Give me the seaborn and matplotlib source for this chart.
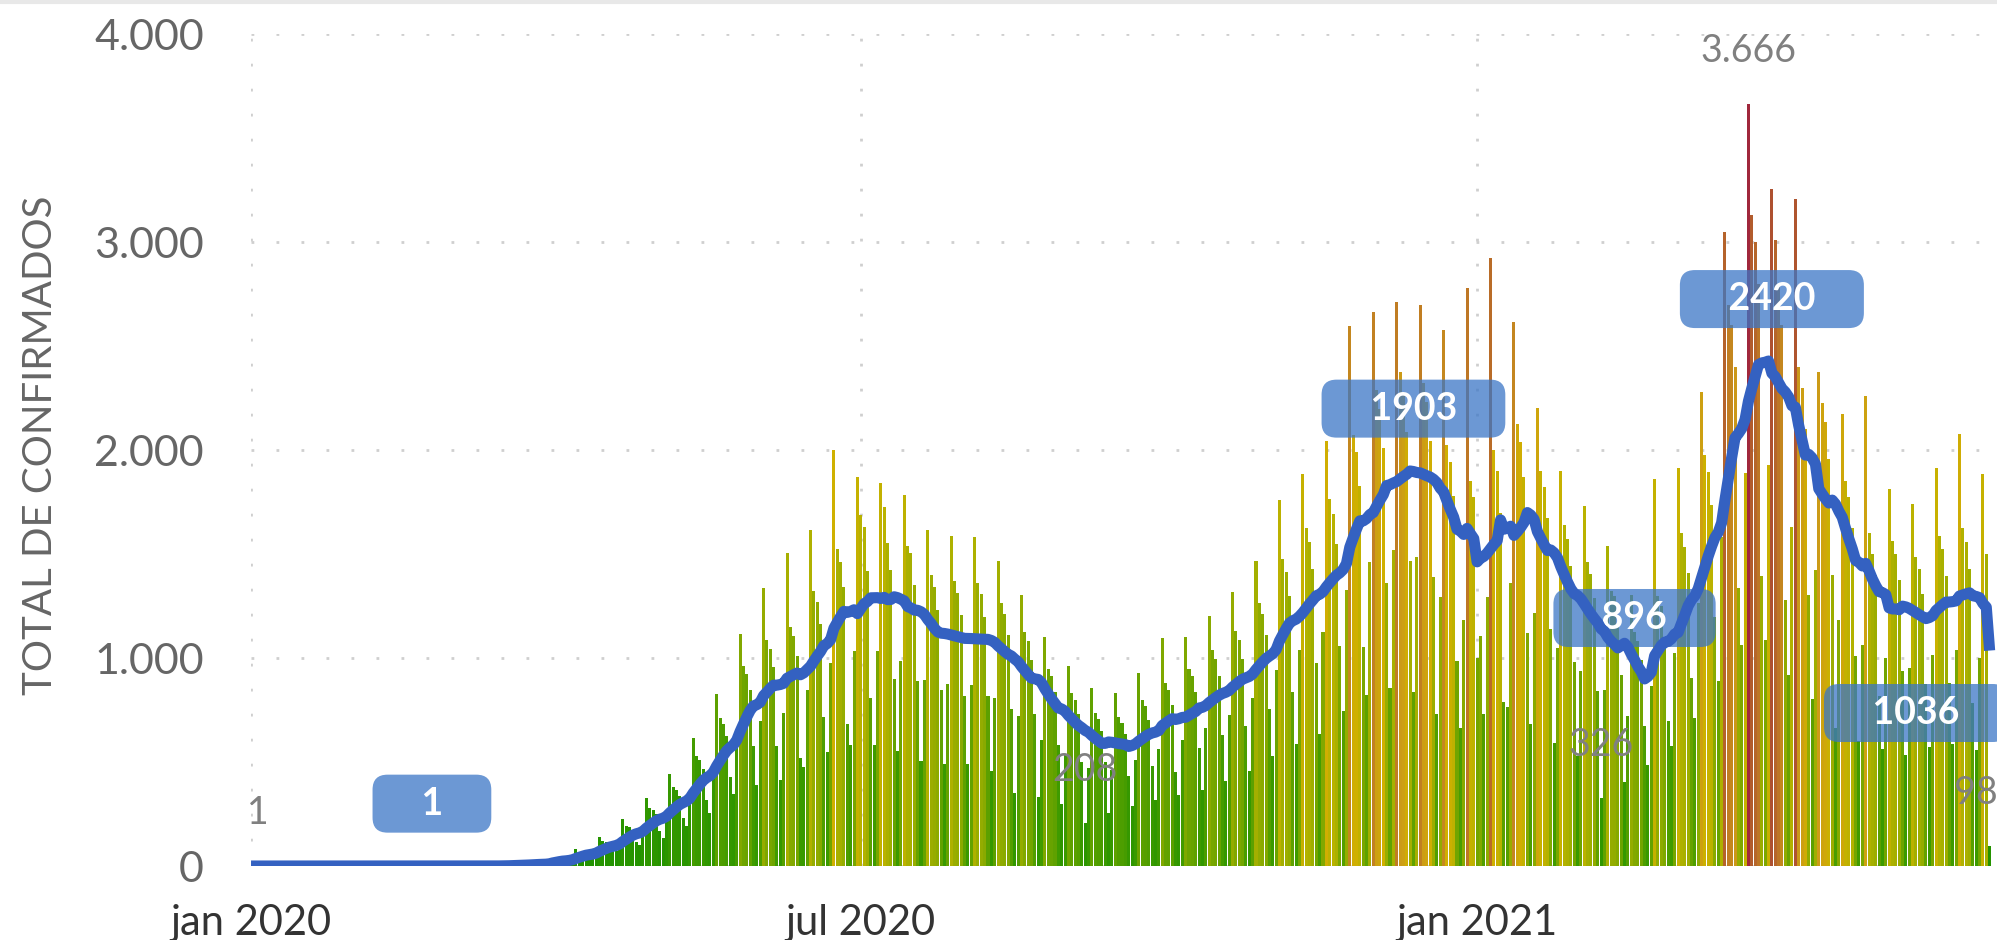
import numpy as np
import pandas as pd
import matplotlib
matplotlib.use("Agg")
import matplotlib.pyplot as plt
import matplotlib.dates as mdates
from matplotlib.colors import LinearSegmentedColormap
from matplotlib.lines import Line2D
import seaborn as sns

# ---------------- data: daily confirmed cases ----------------
jan_2020 = [0, 0, 1]
mar_2020 = [0, 0, 0, 0, 0, 0, 0, 0, 0, 0, 0, 0, 1, 0, 2, 1, 3, 2, 4, 3, 6, 5, 8, 7, 9, 8, 10, 9, 11, 20, 36]
apr_2020 = [31, 30, 28, 19,
            25, 44, 80, 69, 66, 61, 40,
            43, 76, 138, 119, 114, 105, 70,
            70, 124, 225, 194, 186, 171, 115,
            101, 180, 327, 281, 270]
may_2020 = [248, 168,
            137, 244, 442, 381, 366, 336, 229,
            191, 340, 616, 531, 510, 468, 319,
            257, 456, 827, 713, 684, 627, 426,
            347, 616, 1117, 963, 924, 847, 576,
            392]
jun_2020 = [696, 1337, 1088, 1044, 957, 576,
            414, 736, 1505, 1150, 1104, 1012, 519,
            477, 848, 1616, 1325, 1272, 1166, 716,
            549, 976, 2001, 1525, 1464, 1342, 683,
            581, 1032, 1870]
jul_2020 = [1690, 1630, 1419, 808,
            583, 1036, 1842, 1727, 1554, 1425, 898,
            554, 984, 1784, 1538, 1505, 1353, 892,
            504, 896, 1616, 1400, 1344, 1232, 848,
            493, 876, 1588, 1369, 1314, 1205]
aug_2020 = [820,
            491, 872, 1581, 1363, 1308, 1199, 816,
            455, 808, 1465, 1263, 1212, 1111, 756,
            351, 720, 1305, 1125, 1080, 990, 729,
            332, 608, 1102, 950, 912, 836, 580,
            299, 532]
sep_2020 = [964, 831, 798, 732, 499,
            208, 472, 856, 738, 708, 649, 499,
            255, 460, 834, 719, 690, 633, 434,
            288, 512, 928, 800, 768, 704, 480,
            317, 564, 1097, 881]
oct_2020 = [846, 776, 454,
            342, 608, 1102, 950, 912, 836, 570,
            366, 664, 1204, 1038, 996, 913, 629,
            407, 724, 1318, 1131, 1086, 996, 673,
            455, 808, 1465, 1263, 1212, 1111, 756]
nov_2020 = [531, 944, 1760, 1475, 1416, 1298, 836,
            585, 1040, 1885, 1625, 1560, 1430, 975,
            635, 1128, 2045, 1763, 1692, 1551, 1056,
            747, 1328, 2597, 2075, 1992, 1826, 1055,
            824, 1464]
dec_2020 = [2665, 2288, 2196, 2013, 1360,
            855, 1520, 2713, 2375, 2280, 2090, 1467,
            837, 1488, 2700, 2325, 2232, 2046, 1392,
            729, 1296, 2578, 2025, 1944, 1782, 986,
            666, 1184, 2780, 1850, 1776]
jan_2021 = [1000, 1104,
            729, 1296, 2924, 2000, 1900, 1700, 791,
            765, 1360, 2617, 2125, 2040, 1870, 1123,
            684, 1216, 2204, 1900, 1824, 1672, 1140,
            590, 1048, 1900, 1638, 1572, 1441, 981,
            527]
feb_2021 = [936, 1732, 1463, 1404, 1287, 841,
            326, 848, 1537, 1325, 1300, 1166, 918,
            405, 720, 1305, 1125, 1080, 990, 675,
            486, 864, 1861, 1300, 1250, 1100, 699,
            576]
mar_2021 = [1024, 1914, 1600, 1536, 1408, 902,
            711, 1264, 2280, 1975, 1896, 1738, 1196,
            891, 1584, 3050, 2700, 2600, 2400, 1335,
            1062, 1888, 3666, 3131, 3000, 2800, 1393,
            1085, 1928, 3256, 3013]
apr_2021 = [2800, 2600, 1278,
            918, 1632, 3208, 2400, 2300, 2100, 1302,
            801, 1424, 2376, 2225, 2136, 1958, 1400,
            666, 1184, 2174, 1850, 1776, 1628, 1012,
            599, 1064, 2261, 1600, 1500, 1400]
may_2021 = [816,
            563, 1000, 1813, 1563, 1500, 1375, 936,
            536, 952, 1741, 1488, 1428, 1309, 876,
            572, 1016, 1914, 1588, 1524, 1397, 879,
            585, 1040, 2078, 1625, 1560, 1430, 782,
            560, 1000]
jun_2021 = [1884, 1500, 98]

month_starts = ["2020-01-01", "2020-03-01", "2020-04-01", "2020-05-01", "2020-06-01", "2020-07-01", "2020-08-01",
                "2020-09-01", "2020-10-01", "2020-11-01", "2020-12-01", "2021-01-01", "2021-02-01", "2021-03-01",
                "2021-04-01", "2021-05-01", "2021-06-01"]
month_values = [jan_2020, mar_2020, apr_2020, may_2020, jun_2020, jul_2020, aug_2020, sep_2020, oct_2020, nov_2020,
                dec_2020, jan_2021, feb_2021, mar_2021, apr_2021, may_2021, jun_2021]

x_tick_dates = ["2020-01-01", "2020-07-01", "2021-01-01"]
x_tick_labels = ["jan 2020", "jul 2020", "jan 2021"]
y_ticks = [0, 1000, 2000, 3000, 4000]
y_tick_labels = ["0", "1.000", "2.000", "3.000", "4.000"]

bar_label_dates = ["2020-01-03", "2020-09-06", "2021-02-07", "2021-03-23", "2021-06-03"]
bar_label_texts = ["1", "208", "326", "3.666", "98"]

ma_label_texts = ["1", "1903", "896", "2420", "1036"]
ma_label_dates = ["2020-02-24", "2020-12-13", "2021-02-17", "2021-03-30", "2021-05-12"]
ma_label_levels = [300, 2200, 1193, 2727, 736]

# ---------------- build series ----------------
parts = [pd.Series(v, index=pd.date_range(s, periods=len(v), freq="D"), dtype=float)
         for s, v in zip(month_starts, month_values)]
cases = pd.concat(parts)
cases = cases.reindex(pd.date_range(cases.index[0], cases.index[-1], freq="D"), fill_value=0)
moving_avg = cases.rolling(7, min_periods=1).mean()
df = pd.DataFrame({"date": cases.index, "cases": cases.values, "ma": moving_avg.values})

# ---------------- style ----------------
sns.set_theme(style="white")
plt.rcParams["font.family"] = ["Lato", "DejaVu Sans"]

fig = plt.figure(figsize=(19.97, 9.40), dpi=100)
ax = fig.add_axes([0.1257, 0.0787, 0.8743, 0.8847])

cmap = LinearSegmentedColormap.from_list("cases", [
    (0.00, "#1f9200"), (0.15, "#3c9a00"), (0.30, "#80a800"), (0.45, "#b4b200"),
    (0.55, "#d0b000"), (0.65, "#cc9a18"), (0.75, "#bf7a24"), (0.87, "#b0582e"), (1.00, "#a0283c")])
bar_colors = cmap(df["cases"].values / df["cases"].max())

ax.bar(df["date"], df["cases"], width=0.9, color=bar_colors, linewidth=0, zorder=2)

sns.lineplot(data=df, x="date", y="ma", ax=ax, color="#3461c1", linewidth=8, zorder=5,
             legend=False, solid_joinstyle="round", solid_capstyle="butt")

x0 = mdates.date2num(pd.Timestamp("2020-01-01"))
ax.set_xlim(x0, x0 + 521.2)
ax.set_ylim(0, 4000)

ax.set_xticks([mdates.date2num(pd.Timestamp(d)) for d in x_tick_dates])
ax.set_xticklabels(x_tick_labels)
ax.set_yticks(y_ticks)
ax.set_yticklabels(y_tick_labels)

ax.grid(True, color="#cfcfcf", linestyle=(0, (1, 8)), linewidth=2, zorder=0)
ax.set_axisbelow(True)
for s in ax.spines.values():
    s.set_visible(False)

ax.tick_params(axis="y", length=0, pad=34, labelsize=31, labelcolor="#666666")
ax.tick_params(axis="x", length=0, pad=27, labelsize=30, labelcolor="#333333")
ax.set_xlabel("")
ax.set_ylabel("TOTAL DE CONFIRMADOS", fontsize=29, color="#666666")
ax.yaxis.set_label_coords(-0.11, 0.506)

# bar data labels
for d, t in zip(bar_label_dates, bar_label_texts):
    ts = pd.Timestamp(d)
    v = cases.loc[ts]
    ha = "right" if d == bar_label_dates[-1] else "center"
    dx = 6 if ha == "right" else 0
    ax.annotate(t, xy=(mdates.date2num(ts), v), xytext=(dx, 38), textcoords="offset points",
                ha=ha, va="center", fontsize=27, color="#808080", zorder=6, annotation_clip=False)

# moving-average labels (rounded boxes)
for t, d, lvl in zip(ma_label_texts, ma_label_dates, ma_label_levels):
    ax.text(mdates.date2num(pd.Timestamp(d)), lvl, "    " + t + "    ", ha="center", va="center",
            fontsize=27, fontweight="bold", color="white", zorder=4, clip_on=False,
            bbox=dict(boxstyle="round,pad=0.32,rounding_size=0.4", fc="#3b76c6", ec="none", alpha=0.75))

fig.add_artist(Line2D([0, 1], [0.998, 0.998], color="#e8e8e8", lw=3, transform=fig.transFigure))

fig.savefig("out.png", dpi=100)
